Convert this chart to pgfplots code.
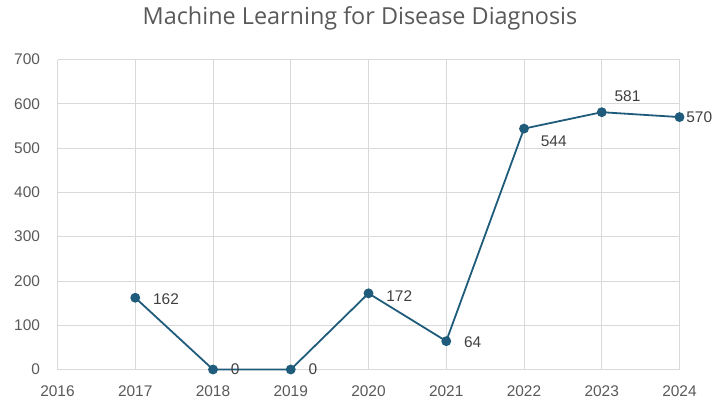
\documentclass[border=0pt]{standalone}
\usepackage{fontspec}
\setmainfont{Liberation Sans}
\newfontfamily\titlefont{Open Sans}
\usepackage{pgfplots}
\pgfplotsset{compat=1.18}
\definecolor{lineblue}{HTML}{1F5B7B}
\definecolor{gridgray}{HTML}{D9D9D9}
\definecolor{ticktext}{HTML}{595959}
\definecolor{labeltext}{HTML}{404040}
\begin{document}
\begin{tikzpicture}[x=1bp,y=1bp]
\useasboundingbox (0,0) rectangle (716,405);
\node[font=\titlefont\fontsize{23.5}{26}\selectfont, text=ticktext] at (360,387) {Machine Learning for Disease Diagnosis};
\begin{axis}[
  at={(57.5bp,35.5bp)}, anchor=south west,
  scale only axis, width=622bp, height=310bp,
  xmin=2016, xmax=2024, ymin=0, ymax=700,
  xtick={2016,...,2024}, ytick={0,100,...,700},
  axis line style={draw=none},
  grid=major, major grid style={gridgray, line width=0.8pt},
  xticklabel style={text=ticktext, font=\fontsize{15.5}{17}\selectfont, yshift=-13bp},
  yticklabel style={text=ticktext, font=\fontsize{15.5}{17}\selectfont, xshift=-14bp},
  /pgf/number format/assume math mode=true,
  xticklabels={2016,2017,2018,2019,2020,2021,2022,2023,2024},
  tick style={draw=none},
  clip=false,
]
\addplot[draw=gridgray, line width=1pt, forget plot] coordinates {(2016,0) (2024,0)};
\addplot[lineblue, line width=1.8pt, mark=*, mark size=4pt,
  mark options={fill=lineblue, draw=lineblue},
  visualization depends on={value \thisrow{dx} \as \ldx},
  visualization depends on={value \thisrow{dy} \as \ldy},
  nodes near coords={\pgfmathprintnumber{\pgfplotspointmeta}},
  point meta=explicit,
  every node near coord/.style={font=\fontsize{15.5}{17}\selectfont, text=labeltext,
    anchor=west, inner sep=0pt, xshift=\ldx bp, yshift=\ldy bp},
] table[meta=y, row sep=\\] {
x y dx dy\\
2017 162 17 -1\\
2018 0 17 0\\
2019 0 17 0\\
2020 172 17 -3\\
2021 64 17 -1\\
2022 544 16 -13\\
2023 581 12 16\\
2024 570 6 0\\
};
\end{axis}
\end{tikzpicture}
\end{document}
